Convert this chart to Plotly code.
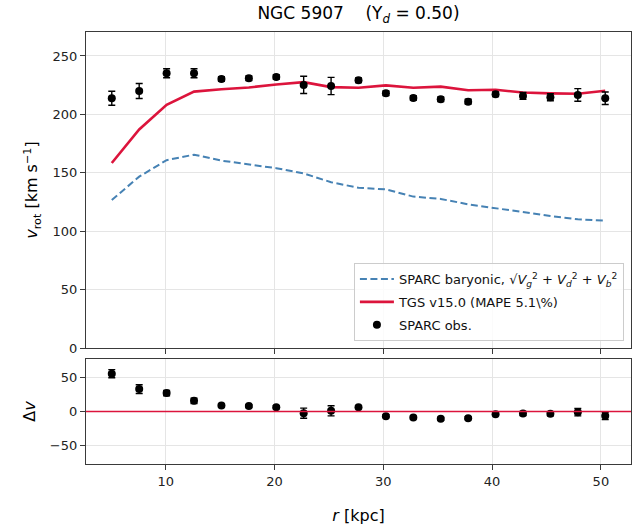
import plotly.graph_objects as go

# ---- data ----
r_kpc = [5.04, 7.56, 10.08, 12.60, 15.12, 17.64, 20.16, 22.68, 25.20, 27.72,
         30.24, 32.76, 35.28, 37.80, 40.32, 42.84, 45.36, 47.88, 50.40]
v_obs = [213.8, 220.0, 235.2, 235.2, 230.3, 230.9, 232.0, 225.2, 224.3, 229.2,
         218.0, 214.0, 212.9, 210.9, 217.2, 215.8, 214.6, 216.6, 213.8]
v_err = [6.0, 6.4, 3.9, 3.9, 2.0, 2.0, 2.0, 7.4, 7.4, 2.0,
         2.0, 2.0, 2.0, 2.0, 2.0, 3.0, 3.0, 5.4, 5.3]
v_tgs = [158.4, 187.1, 208.2, 219.5, 221.5, 223.0, 225.6, 227.6, 223.3, 222.8,
         224.8, 222.8, 223.7, 220.7, 221.1, 218.7, 218.0, 217.6, 220.2]
v_bar = [126.7, 146.7, 160.8, 165.5, 160.4, 157.3, 153.9, 149.5, 141.9, 137.2,
         135.8, 129.6, 127.6, 123.0, 119.6, 115.8, 113.0, 110.2, 109.0]
dv = [o - t for o, t in zip(v_obs, v_tgs)]

x_ticks = [10, 20, 30, 40, 50]
y_ticks_top = [0, 50, 100, 150, 200, 250]
y_ticks_bot = [-50, 0, 50]

FONT = "DejaVu Sans"
RED = "#DC143C"
BLUE = "#4682B4"
GRID = "#e5e5e5"
SPINE = "#3a3a3a"

W, H = 641, 529

fig = go.Figure()

fig.add_trace(go.Scatter(
    x=r_kpc, y=v_bar, mode="lines", xaxis="x", yaxis="y", legendgroup="a",
    line=dict(color=BLUE, width=2, dash="7px,3.5px"),
    name="SPARC baryonic, √<i>V</i><sub><i>g</i></sub><sup>2</sup> + <i>V</i><sub><i>d</i></sub><sup>2</sup> + <i>V</i><sub><i>b</i></sub><sup>2</sup>"))
fig.add_trace(go.Scatter(
    x=r_kpc, y=v_tgs, mode="lines", xaxis="x", yaxis="y", legendgroup="b",
    line=dict(color=RED, width=2.6),
    name="TGS v15.0 (MAPE 5.1\\%)"))
fig.add_trace(go.Scatter(
    x=r_kpc, y=v_obs, mode="markers", xaxis="x", yaxis="y", legendgroup="c",
    marker=dict(color="black", size=8),
    error_y=dict(type="data", array=v_err, color="black", thickness=1.4, width=3.5),
    name="SPARC obs."))
fig.add_trace(go.Scatter(
    x=r_kpc, y=dv, mode="markers", xaxis="x2", yaxis="y2",
    marker=dict(color="black", size=8),
    error_y=dict(type="data", array=v_err, color="black", thickness=1.4, width=3.5),
    showlegend=False))

fig.add_shape(type="line", xref="x2 domain", yref="y2", x0=0, x1=1, y0=0, y1=0,
              line=dict(color=RED, width=1.4), layer="above")

axis_common = dict(
    showline=True, linecolor=SPINE, linewidth=1.2, mirror=True,
    ticks="outside", ticklen=5, tickwidth=1, tickcolor=SPINE,
    showgrid=True, gridcolor=GRID, gridwidth=1, zeroline=False, automargin=False,
    tickfont=dict(family=FONT, size=13, color="#222"),
)

top_y0 = 116 / 432
bot_y1 = 105 / 432

fig.update_layout(
    width=W, height=H,
    margin=dict(l=86, r=10, t=32, b=65),
    paper_bgcolor="white", plot_bgcolor="white",
    font=dict(family=FONT, color="#222"),
    title=dict(text="NGC 5907    (Υ<sub><i>d</i></sub> = 0.50)",
               x=0.5, xref="paper", xanchor="center",
               y=1 - 13 / H, yref="container", yanchor="middle",
               font=dict(family=FONT, size=17, color="black"), automargin=False),
    xaxis=dict(axis_common, domain=[0, 1], range=[2.67, 52.77], tickvals=x_ticks,
               showticklabels=False, anchor="y"),
    yaxis=dict(axis_common, domain=[top_y0, 1], range=[0, 270.5], tickvals=y_ticks_top,
               anchor="x",
               title=dict(text="<i>v</i><sub>rot</sub> [km s<sup>−1</sup>]",
                          font=dict(family=FONT, size=16, color="black"), standoff=10)),
    xaxis2=dict(axis_common, domain=[0, 1], range=[2.67, 52.77], tickvals=x_ticks,
                matches="x", anchor="y2",
                title=dict(text="<i>r</i> [kpc]",
                           font=dict(family=FONT, size=16, color="black"), standoff=22)),
    yaxis2=dict(axis_common, domain=[0, bot_y1], range=[-77, 77], tickvals=y_ticks_bot,
                anchor="x2",
                title=dict(text="Δ<i>v</i>",
                           font=dict(family=FONT, size=16, color="black"), standoff=10)),
    legend=dict(x=0.987, xanchor="right", y=(464 - 341) / 432, yanchor="bottom",
                bgcolor="rgba(255,255,255,0.85)", bordercolor="#cccccc", borderwidth=1,
                font=dict(family=FONT, size=13, color="#111"),
                tracegroupgap=3, itemwidth=34),
    showlegend=True,
)

fig.write_html("out.html", post_script="document.body.style.margin='0';",
               config={"displayModeBar": False})
